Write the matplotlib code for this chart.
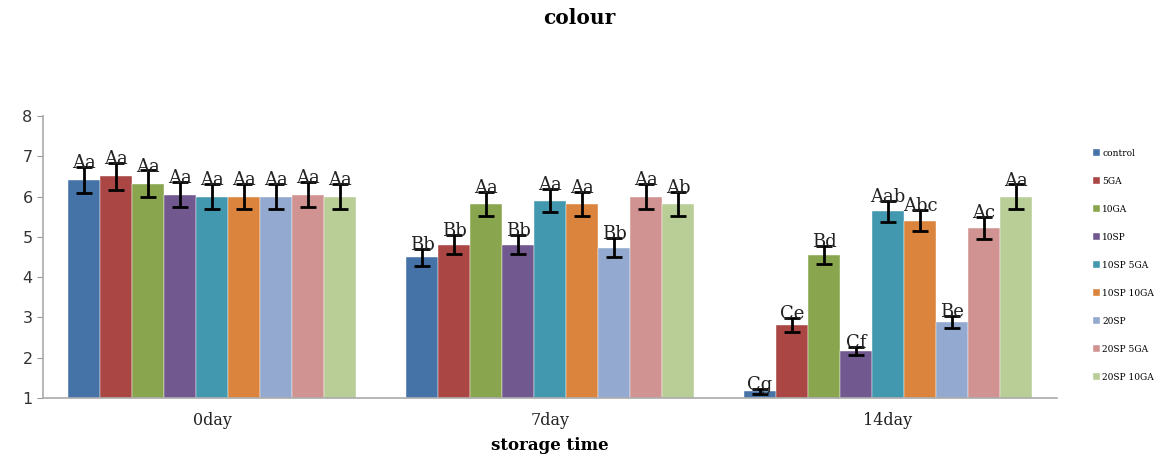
import matplotlib
matplotlib.use("Agg")
import matplotlib.pyplot as plt
import numpy as np

categories = ["0day", "7day", "14day"]
series = ["control", "5GA", "10GA", "10SP", "10SP 5GA", "10SP 10GA", "20SP", "20SP 5GA", "20SP 10GA"]
values = [
    [6.41, 4.49, 1.17],   # control
    [6.50, 4.81, 2.82],   # 5GA
    [6.32, 5.82, 4.55],   # 10GA
    [6.05, 4.81, 2.17],   # 10SP
    [6.00, 5.90, 5.63],   # 10SP 5
    [6.00, 5.82, 5.40],   # 10SP 10
    [6.00, 4.73, 2.89],   # 20SP
    [6.05, 6.00, 5.22],   # 20SP 5
    [6.00, 5.82, 5.99],   # 20SP 10
]
errors = [
    [0.33, 0.22, 0.06],
    [0.33, 0.24, 0.17],
    [0.33, 0.30, 0.22],
    [0.31, 0.24, 0.10],
    [0.31, 0.29, 0.27],
    [0.31, 0.30, 0.26],
    [0.31, 0.24, 0.15],
    [0.31, 0.31, 0.27],
    [0.31, 0.30, 0.31],
]
letters = [
    ["Aa", "Bb", "Cg"],
    ["Aa", "Bb", "Ce"],
    ["Aa", "Aa", "Bd"],
    ["Aa", "Bb", "Cf"],
    ["Aa", "Aa", "Aab"],
    ["Aa", "Aa", "Abc"],
    ["Aa", "Bb", "Be"],
    ["Aa", "Aa", "Ac"],
    ["Aa", "Ab", "Aa"],
]
colors = ["#4572A7", "#AA4643", "#89A54E", "#71588F", "#4198AF",
          "#DB843D", "#93A9CF", "#D19392", "#B9CD96"]

fig = plt.figure(figsize=(11.58, 4.68), dpi=100)
ax = fig.add_axes([43/1158, 1-398/468, (1057-43)/1158, (398-116)/468])

x = np.arange(len(categories))
n = len(series)
w = 0.0947
handles = []
for i in range(n):
    pos = x + (i - (n-1)/2) * w
    h = ax.bar(pos, np.array(values[i]) - 1, w, bottom=1, color=colors[i],
               edgecolor="white", linewidth=0.3, label=series[i], zorder=2)
    handles.append(h)
    ax.errorbar(pos, values[i], yerr=errors[i], fmt="none", ecolor="black",
                elinewidth=2, capsize=6, capthick=2, zorder=3)
    for j in range(len(categories)):
        ax.text(pos[j], values[i][j] + errors[i][j] - 0.03, letters[i][j],
                ha="center", va="baseline", fontsize=13, family="DejaVu Serif",
                color="#222222", zorder=4)

ax.set_xlim(-0.5, 2.5)
ax.set_ylim(1, 8)
ax.set_yticks(range(1, 9))
ax.set_xticks(x)
ax.set_xticklabels(categories, family="DejaVu Serif", fontsize=11.5, color="#222222")
ax.tick_params(axis="x", length=0, pad=10)
ax.tick_params(axis="y", length=4, color="#999999", labelsize=11.5, labelcolor="#333333")
for s in ["top", "right"]:
    ax.spines[s].set_visible(False)
for s in ["left", "bottom"]:
    ax.spines[s].set_color("#aaaaaa")
    ax.spines[s].set_linewidth(1.2)
ax.set_xlabel("storage time", family="DejaVu Serif", fontweight="bold", fontsize=12, labelpad=6)

fig.text(0.5, 1-18/468, "colour", ha="center", va="center", family="DejaVu Serif",
         fontweight="bold", fontsize=14.5)

leg = fig.legend(handles=handles, labels=series, loc="upper left",
                 bbox_to_anchor=(1093/1158, 1-149/468), frameon=False,
                 prop={"family": "DejaVu Serif", "size": 6.5},
                 handlelength=0.8, handleheight=0.8, handletextpad=0.2,
                 labelspacing=2.1, borderaxespad=0, borderpad=0)

fig.savefig("out.png", dpi=100)
